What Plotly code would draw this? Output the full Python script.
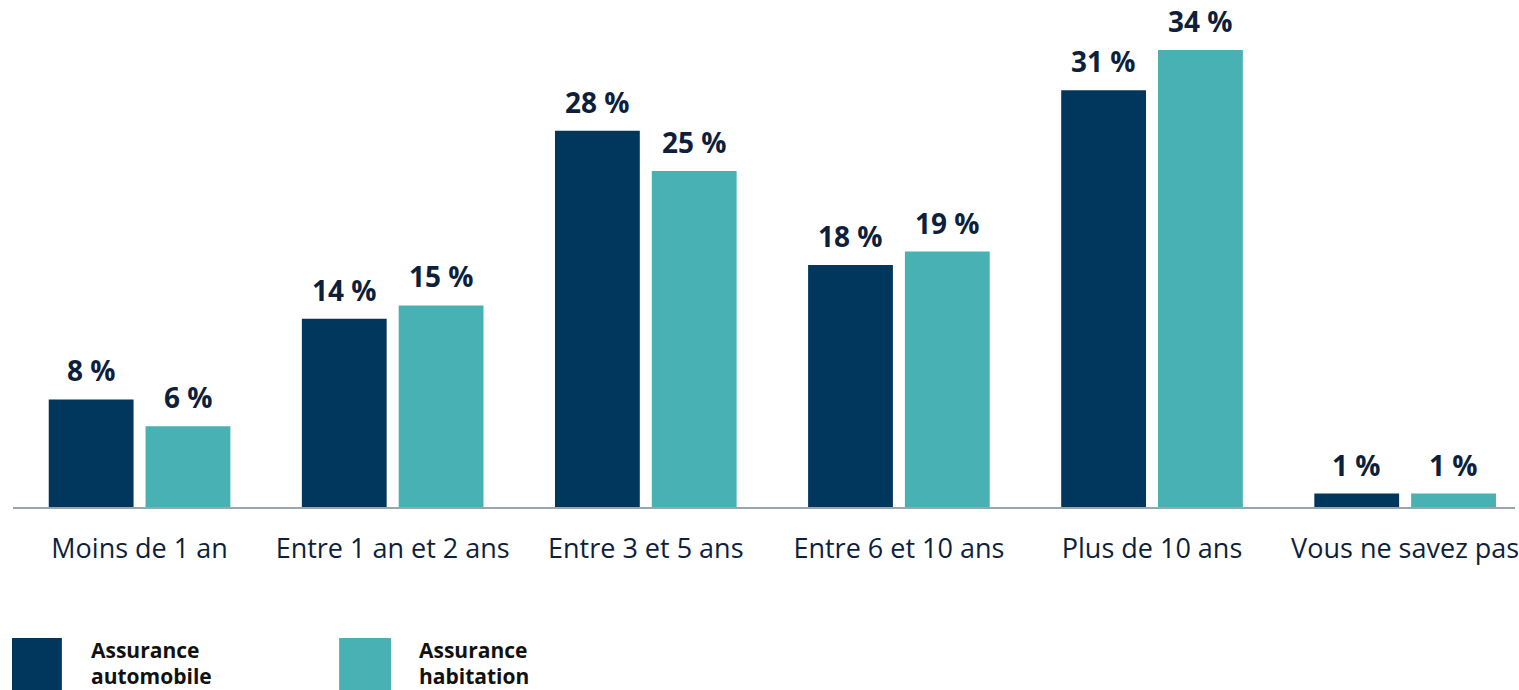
import plotly.graph_objects as go

# Survey data: how long respondents have held their current insurance
categories = ["Moins de 1 an", "Entre 1 an et 2 ans", "Entre 3 et 5 ans",
              "Entre 6 et 10 ans", "Plus de 10 ans", "Vous ne savez pas"]
auto_values = [8, 14, 28, 18, 31, 1]
home_values = [6, 15, 25, 19, 34, 1]
series_names = [("Assurance", "automobile"), ("Assurance", "habitation")]

NAVY = "#01365d"
TEAL = "#47b1b3"
LABEL = "#0e1f3b"

W, H = 1519, 690
ML, MB = 13, 183
plot_w, plot_h = W - ML, H - MB

fig = go.Figure()
fig.add_bar(x=categories, y=auto_values, marker_color=NAVY,
            name=" ".join(series_names[0]), marker_line_width=0)
fig.add_bar(x=categories, y=home_values, marker_color=TEAL,
            name=" ".join(series_names[1]), marker_line_width=0)

# value labels above each bar
annotations = []
for vals, shift in ((auto_values, -48.5), (home_values, 48.5)):
    for cat, v in zip(categories, vals):
        annotations.append(dict(
            x=cat, y=v, xref="x", yref="y", text=f"<b>{v} %</b>",
            showarrow=False, xshift=shift, yanchor="bottom", yshift=8,
            font=dict(family="Open Sans", size=28, color=LABEL),
        ))

# custom legend below the chart
def px_x(px):
    return (px - ML) / plot_w

def px_y(py):
    return (plot_h - py) / plot_h

shapes = []
for (x0, x1), color, lines, tx in (((12, 62), NAVY, series_names[0], 90),
                                   ((340, 392), TEAL, series_names[1], 419)):
    shapes.append(dict(type="rect", xref="paper", yref="paper",
                       x0=px_x(x0), x1=px_x(x1), y0=px_y(690), y1=px_y(638),
                       fillcolor=color, line_width=0, layer="above"))
    for line, ty in zip(lines, (650, 676)):
        annotations.append(dict(
            x=px_x(tx), y=px_y(ty), xref="paper", yref="paper",
            text=f"<b>{line}</b>", showarrow=False, xanchor="left",
            yanchor="middle", align="left", borderpad=0,
            font=dict(family="Open Sans", size=21, color="#111111"),
        ))

fig.update_layout(
    width=W, height=H,
    margin=dict(l=ML, r=0, t=0, b=MB, pad=0),
    paper_bgcolor="white", plot_bgcolor="white",
    barmode="group", bargap=0.235, bargroupgap=0.124,
    showlegend=False,
    annotations=annotations, shapes=shapes,
    xaxis=dict(
        type="category", range=[-0.5, 5.434],
        showline=True, linecolor="#9aa6ae", linewidth=2,
        showgrid=False, zeroline=False,
        ticks="outside", ticklen=17, tickcolor="rgba(0,0,0,0)",
        tickfont=dict(family="Open Sans", size=27, color=LABEL),
    ),
    yaxis=dict(range=[0, 37.72], visible=False, showgrid=False, zeroline=False),
)

fig.write_html("out.html")
